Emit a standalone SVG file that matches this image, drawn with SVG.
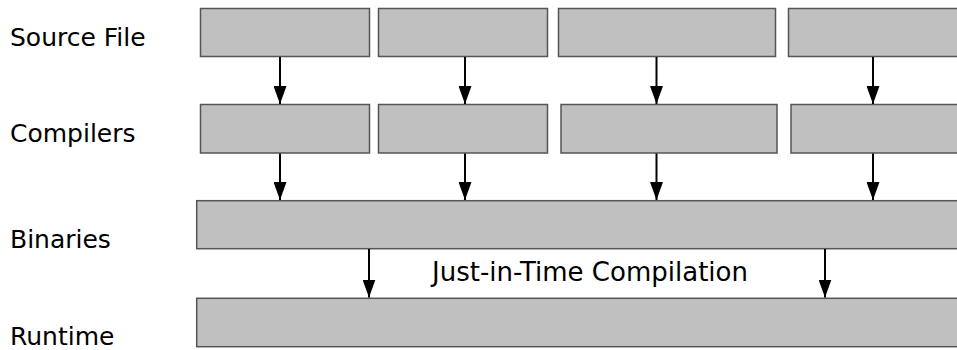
<svg xmlns="http://www.w3.org/2000/svg" width="957" height="350" viewBox="0 0 957 350">
<style>
.box{fill:#c0c0c0;stroke:#555555;stroke-width:1.5}
.lbl{font-family:"DejaVu Sans",sans-serif;font-size:25px;fill:#000}
.conn line{stroke:#000;stroke-width:2}
</style>
<defs>
<marker id="ah" markerUnits="userSpaceOnUse" markerWidth="18" markerHeight="13" refX="18" refY="6.5" orient="auto" viewBox="0 0 18 13">
<path d="M0,0 L18,6.5 L0,13 Z" fill="#000"/>
</marker>
</defs>
<rect width="957" height="350" fill="#fff"/>
<g id="labels">
<text class="lbl" x="10" y="45.5">Source File</text>
<text class="lbl" x="10" y="141.5">Compilers</text>
<text class="lbl" x="10" y="248">Binaries</text>
<text class="lbl" x="10" y="345">Runtime</text>
</g>
<g id="src1"><rect class="box" x="200.5" y="8.5" width="169" height="48"/></g>
<g id="src2"><rect class="box" x="378.5" y="8.5" width="169" height="48"/></g>
<g id="src3"><rect class="box" x="558.5" y="8.5" width="217" height="48"/></g>
<g id="src4"><rect class="box" x="788.5" y="8.5" width="180" height="48"/></g>
<g id="cmp1"><rect class="box" x="200.5" y="104.5" width="169" height="48.5"/></g>
<g id="cmp2"><rect class="box" x="378.5" y="104.5" width="169" height="48.5"/></g>
<g id="cmp3"><rect class="box" x="561" y="104.5" width="216" height="48.5"/></g>
<g id="cmp4"><rect class="box" x="791" y="104.5" width="180" height="48.5"/></g>
<g id="binaries"><rect class="box" x="196.7" y="200.7" width="780" height="48"/></g>
<g id="runtime"><rect class="box" x="196.7" y="298.3" width="780" height="48.4"/></g>
<g id="jit"><text class="lbl" x="432" y="280.5" style="font-size:26px">Just-in-Time Compilation</text></g>
<g class="conn" id="connectors">
<line x1="280" y1="57" x2="280" y2="104" marker-end="url(#ah)"/>
<line x1="465" y1="57" x2="465" y2="104" marker-end="url(#ah)"/>
<line x1="656.5" y1="57" x2="656.5" y2="104" marker-end="url(#ah)"/>
<line x1="873" y1="57" x2="873" y2="104" marker-end="url(#ah)"/>
<line x1="280" y1="153.5" x2="280" y2="200" marker-end="url(#ah)"/>
<line x1="465" y1="153.5" x2="465" y2="200" marker-end="url(#ah)"/>
<line x1="656.5" y1="153.5" x2="656.5" y2="200" marker-end="url(#ah)"/>
<line x1="873" y1="153.5" x2="873" y2="200" marker-end="url(#ah)"/>
<line x1="369" y1="249" x2="369" y2="297.5" marker-end="url(#ah)"/>
<line x1="825" y1="249" x2="825" y2="297.5" marker-end="url(#ah)"/>
</g>
</svg>
